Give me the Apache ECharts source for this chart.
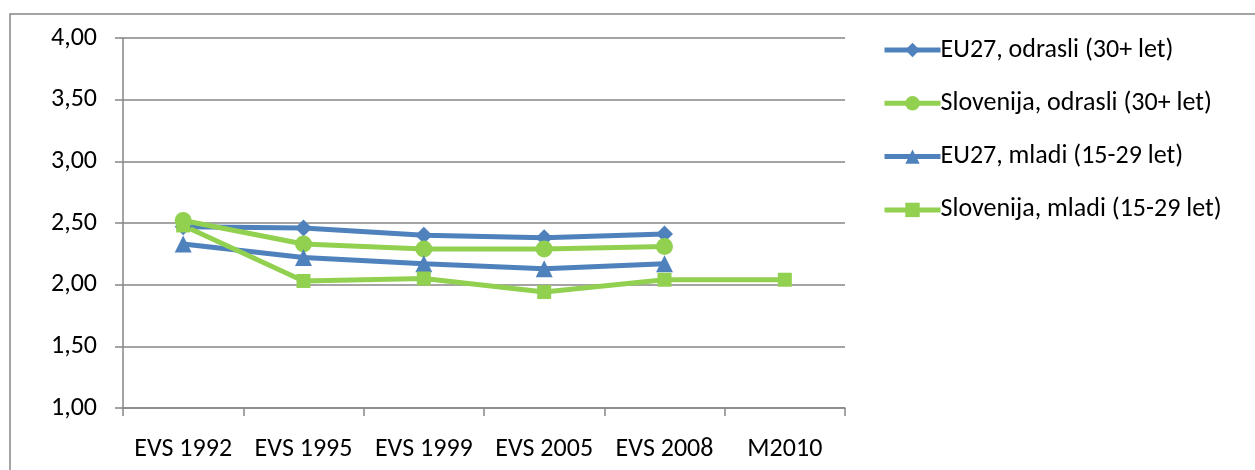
<!DOCTYPE html>
<html><head><meta charset="utf-8">
<script src="https://cdn.jsdelivr.net/npm/echarts@6/dist/echarts.min.js"></script>
<style>html,body{margin:0;padding:0;background:#fff}#c{width:1255px;height:470px}</style>
</head><body><div id="c"></div>
<script>
const categories = ['EVS 1992','EVS 1995','EVS 1999','EVS 2005','EVS 2008','M2010'];
const seriesNames = ['EU27, odrasli (30+ let)','Slovenija, odrasli (30+ let)','EU27, mladi (15-29 let)','Slovenija, mladi (15-29 let)'];
const euAdults = [2.47, 2.46, 2.40, 2.38, 2.41, null];
const slAdults = [2.52, 2.33, 2.29, 2.29, 2.31, null];
const euYouth = [2.33, 2.22, 2.17, 2.13, 2.17, null];
const slYouth = [2.48, 2.03, 2.05, 1.94, 2.04, 2.04];
const yMin = 1, yMax = 4, yStep = 0.5;

const blue = '#4F81BD', green = '#92D050';
const font = 'Carlito, Lato';
const chart = echarts.init(document.getElementById('c'));
function mk(name, data, color, symbol, size) {
  return { name, type: 'line', data, color, symbol, symbolSize: size,
    lineStyle: { width: 5, color }, itemStyle: { color },
    connectNulls: false, animation: false };
}
chart.setOption({
  animation: false,
  graphic: [{ type: 'rect', shape: { x: 10, y: 14, width: 1300, height: 520 },
    style: { fill: 'none', stroke: '#868686', lineWidth: 1.5 }, z: -1 }],
  grid: { left: 123, right: 410, top: 38, bottom: 62 },
  legend: {
    orient: 'vertical', left: 877, top: 32, itemGap: 27.3, itemWidth: 56, itemHeight: 18,
    lineStyle: { width: 5 },
    textStyle: { fontFamily: font, fontSize: 26, lineHeight: 26, color: '#000', padding: [0,0,0,-5] },
    data: seriesNames
  },
  xAxis: {
    type: 'category', data: categories, boundaryGap: true,
    axisLine: { lineStyle: { color: '#868686', width: 1.5 } },
    axisTick: { show: true, interval: 0, length: 8, lineStyle: { color: '#868686', width: 1.5 } },
    axisLabel: { interval: 0, hideOverlap: false, fontFamily: font, fontSize: 26, color: '#000', margin: 28 }
  },
  yAxis: {
    type: 'value', min: yMin, max: yMax, interval: yStep,
    axisLine: { show: true, lineStyle: { color: '#868686', width: 1.5 } },
    axisTick: { show: true, length: 8, lineStyle: { color: '#868686', width: 1.5 } },
    splitLine: { lineStyle: { color: '#868686', width: 1.5 } },
    axisLabel: { fontFamily: font, fontSize: 26, color: '#000', margin: 26,
      formatter: v => v.toFixed(2).replace('.', ',') }
  },
  series: [
    mk(seriesNames[0], euAdults, blue, 'diamond', 17),
    mk(seriesNames[1], slAdults, green, 'circle', 17),
    mk(seriesNames[2], euYouth, blue, 'triangle', 17),
    mk(seriesNames[3], slYouth, green, 'rect', 14)
  ]
});
</script></body></html>
